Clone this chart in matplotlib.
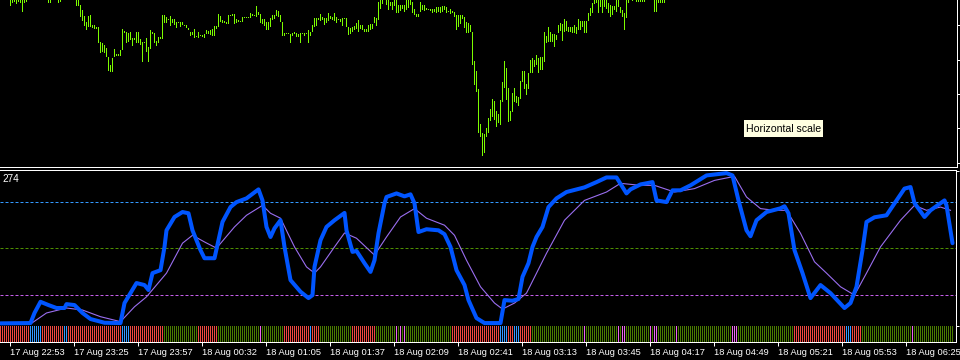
import matplotlib
matplotlib.use("Agg")
import matplotlib.pyplot as plt
from matplotlib.patches import Rectangle

# price bars (arbitrary price units), one entry per bar from bar 0
price_high = [
    180, 180, 180, 180, 180, 170, 168, 168, 168, 168, 168, 168, 168, 168, 180, 180, 180, 180, 180, 180,
    180, 180, 180, 180, 168, 168, 180, 180, 180, 168, 168, 180, 180, 180, 180, 180, 180, 180, 168, 166,
    161, 156, 150, 144, 150, 151, 141, 141, 139, 139, 124, 123, 121, 118, 109, 101, 108, 117, 112, 112,
    116, 137, 135, 134, 133, 134, 128, 128, 134, 134, 127, 124, 124, 128, 119, 136, 134, 133, 125, 129,
    129, 151, 151, 149, 147, 150, 147, 147, 144, 144, 144, 144, 141, 141, 138, 134, 134, 137, 130, 134,
    131, 131, 132, 136, 135, 136, 137, 140, 140, 152, 150, 146, 145, 144, 151, 151, 152, 152, 147, 146,
    145, 149, 149, 149, 149, 153, 152, 151, 160, 154, 152, 147, 147, 144, 144, 148, 151, 151, 156, 155,
    151, 144, 133, 133, 133, 132, 133, 134, 133, 132, 133, 133, 133, 133, 136, 134, 141, 148, 148, 148,
    152, 149, 148, 148, 153, 150, 149, 153, 149, 147, 147, 148, 148, 148, 139, 138, 139, 140, 143, 146,
    141, 141, 137, 137, 141, 142, 142, 149, 148, 164, 168, 170, 172, 169, 168, 164, 164, 168, 168, 161,
    161, 161, 161, 167, 168, 168, 164, 157, 152, 152, 164, 161, 161, 158, 157, 157, 157, 157, 159, 159,
    159, 160, 160, 159, 155, 157, 155, 154, 151, 151, 151, 151, 149, 144, 143, 141, 134, 105, 95, 77,
    42, 33, 32, 38, 48, 57, 67, 65, 55, 52, 66, 84, 105, 98, 78, 55, 73, 78, 70, 69,
    85, 95, 95, 82, 93, 106, 108, 106, 111, 108, 109, 109, 134, 130, 139, 134, 132, 132, 131, 141,
    143, 142, 147, 145, 139, 139, 139, 141, 139, 147, 145, 145, 145, 145, 153, 158, 163, 168, 168, 168,
    168, 168, 168, 168, 163, 161, 160, 160, 168, 168, 159, 156, 153, 168, 170, 172, 170, 172, 170, 170,
    170, 170, 170, 172, 172, 172, 172, 170, 170, 170, 170, 170, 170, 172, 172,
]
price_low = [
    168, 168, 168, 168, 168, 160, 163, 164, 162, 164, 163, 154, 163, 164, 168, 168, 168, 168, 168, 168,
    168, 168, 168, 168, 163, 163, 168, 168, 168, 163, 164, 168, 168, 168, 168, 168, 168, 168, 160, 160,
    149, 145, 140, 136, 139, 139, 138, 137, 137, 123, 113, 114, 113, 109, 95, 94, 94, 109, 110, 110,
    110, 116, 133, 123, 124, 126, 120, 126, 123, 123, 121, 104, 123, 114, 104, 117, 132, 123, 120, 123,
    127, 127, 143, 143, 146, 140, 143, 141, 138, 143, 139, 141, 140, 138, 136, 130, 131, 128, 129, 128,
    130, 129, 128, 132, 132, 131, 130, 130, 137, 139, 144, 143, 143, 142, 142, 150, 150, 142, 143, 144,
    144, 144, 148, 148, 148, 148, 150, 150, 149, 151, 143, 142, 140, 136, 136, 139, 146, 147, 150, 149,
    144, 130, 130, 132, 132, 123, 130, 132, 129, 129, 123, 132, 130, 132, 123, 130, 134, 139, 140, 146,
    145, 146, 141, 143, 145, 147, 146, 145, 143, 146, 144, 140, 147, 139, 131, 132, 134, 136, 137, 134,
    137, 136, 134, 134, 134, 136, 137, 143, 140, 146, 157, 162, 167, 161, 156, 160, 156, 160, 153, 153,
    155, 157, 154, 156, 158, 161, 153, 151, 149, 149, 154, 156, 155, 156, 156, 155, 153, 154, 153, 154,
    153, 154, 156, 153, 154, 152, 153, 149, 136, 139, 142, 147, 138, 133, 133, 134, 101, 81, 74, 33,
    29, 10, 13, 29, 33, 45, 49, 46, 39, 43, 41, 64, 78, 66, 44, 45, 54, 64, 63, 60,
    67, 84, 77, 71, 77, 93, 93, 99, 101, 93, 96, 96, 104, 123, 124, 124, 124, 119, 126, 133,
    135, 125, 134, 135, 134, 134, 133, 133, 132, 136, 136, 139, 133, 133, 145, 150, 153, 162, 163, 153,
    159, 153, 159, 157, 153, 149, 151, 156, 154, 159, 153, 149, 136, 148, 163, 167, 165, 167, 164, 164,
    164, 164, 164, 167, 167, 167, 167, 154, 154, 163, 163, 163, 163, 167, 167,
]
price_ticks = [3, 38, 72, 106, 141]

# oscillator main line (bar index, value)
main_bars = [0, 15, 17, 20, 24, 28, 32, 33, 37, 41, 45, 52, 60, 62, 65, 68, 72, 74, 76, 80,
             82, 83, 87, 91, 94, 96, 100, 102, 107, 109, 111, 115, 118, 123, 129, 131, 133, 135, 137, 140,
             142, 145, 150, 154, 156, 157, 160, 163, 167, 172, 173, 176, 178, 182, 185, 187, 189, 192, 193, 198,
             202, 205, 207, 209, 213, 219, 222, 225, 228, 232, 234, 238, 242, 250, 252, 256, 259, 261, 264, 266,
             268, 271, 274, 278, 283, 292, 298, 303, 308, 313, 315, 320, 326, 328, 333, 336, 340, 345, 353, 363,
             366, 369, 373, 375, 378, 383, 390, 392, 394, 397, 401, 405, 410, 415, 422, 425, 428, 431, 433, 437,
             443, 448, 452, 455, 457, 462, 465, 472, 473, 476]
main_values = [1.7, 1.9, 8.4, 15.6, 13.5, 11.6, 11.6, 14.1, 13.5, 8.4, 4.5, 2.1, 1.9, 14.8, 21.2, 27.7, 26.4, 23.2, 34.1, 36.0,
               51.0, 61.7, 70.3, 73.5, 72.7, 61.7, 48.9, 43.7, 43.7, 55.3, 67.1, 76.7, 79.9, 82.3, 88.1, 81.0, 63.9, 57.4, 63.0, 68.2,
               51.0, 29.6, 22.1, 18.0, 19.9, 38.1, 55.3, 63.9, 68.2, 72.9, 61.7, 47.8, 48.4, 40.5, 34.9, 42.4, 59.8, 79.1, 83.2, 85.5,
               83.6, 84.9, 79.1, 60.6, 62.4, 61.7, 59.2, 51.0, 36.0, 26.4, 16.7, 5.1, 1.9, 1.9, 16.7, 16.3, 17.4, 31.7, 40.5, 51.0,
               57.4, 63.9, 76.7, 82.3, 86.4, 89.4, 92.8, 95.8, 95.8, 85.5, 88.1, 91.3, 92.8, 81.0, 79.9, 87.5, 87.5, 90.7, 97.1, 98.6,
               97.1, 81.0, 61.7, 57.9, 68.2, 73.5, 75.9, 77.2, 72.7, 48.9, 34.1, 18.0, 26.4, 21.2, 11.6, 14.8, 25.3, 48.9, 67.1, 70.1,
               71.4, 81.0, 88.6, 89.6, 79.3, 70.3, 74.6, 81.0, 77.8, 53.4]

# signal line (bar index, value)
signal_bars = [0, 15, 23, 33, 41, 50, 60, 67, 73, 83, 91, 96, 102, 108, 117, 123, 131, 135, 140, 147,
               153, 157, 160, 167, 172, 178, 187, 193, 200, 207, 213, 222, 227, 233, 240, 247, 251, 257, 263, 273,
               282, 292, 303, 310, 320, 327, 337, 347, 357, 367, 373, 380, 387, 393, 400, 407, 413, 420, 427, 433,
               440, 450, 457, 463, 470, 475]
signal_values = [2.1, 1.3, 8.4, 11.6, 10.3, 6.0, 2.8, 12.4, 18.8, 34.1, 53.4, 58.5, 54.2, 50.2, 63.9, 71.4, 77.8, 72.7, 69.5, 51.0,
                 38.1, 34.1, 38.1, 51.0, 60.0, 56.6, 45.7, 57.4, 70.3, 75.7, 69.5, 65.0, 58.5, 42.4, 25.3, 14.8, 10.9, 14.8, 21.2, 46.9,
                 68.2, 81.0, 86.4, 92.0, 90.7, 90.7, 86.4, 88.6, 93.9, 96.5, 83.2, 75.7, 74.6, 74.6, 59.8, 41.4, 34.1, 25.3, 19.9, 34.1,
                 51.0, 68.2, 77.8, 74.6, 76.7, 74.6]

levels = [80, 50, 20]
level_colors = ["#3399ff", "#4f8f00", "#c55ee8"]

# histogram colour runs: first bar of each run and its colour
n_bars = 477
run_starts = [0, 15, 21, 32, 34, 61, 65, 82, 99, 109,
              130, 131, 142, 155, 156, 160, 176, 188, 198, 199,
              200, 201, 202, 203, 226, 250, 254, 257, 260, 266,
              292, 293, 309, 310, 311, 313, 325, 326, 327, 329,
              338, 339, 366, 369, 397, 423, 426, 431, 456, 457]
run_colors = ["r", "b", "r", "b", "r", "b", "r", "g", "r", "g",
              "m", "g", "r", "b", "r", "g", "r", "g", "m", "g",
              "m", "g", "m", "g", "r", "b", "r", "b", "r", "g",
              "m", "g", "m", "g", "m", "g", "m", "g", "m", "g",
              "m", "g", "m", "g", "r", "b", "r", "g", "m", "g"]
palette = {"r": "#f04840", "g": "#4a7c00", "b": "#3399ff", "m": "#ee66ee"}

tick_bars = [5 + 32 * k for k in range(15)]
time_labels = ["17 Aug 22:53", "17 Aug 23:25", "17 Aug 23:57", "18 Aug 00:32", "18 Aug 01:05",
               "18 Aug 01:37", "18 Aug 02:09", "18 Aug 02:41", "18 Aug 03:13", "18 Aug 03:45",
               "18 Aug 04:17", "18 Aug 04:49", "18 Aug 05:21", "18 Aug 05:53", "18 Aug 06:25"]

W, H = 960, 360
px = 0.72  # one pixel in points at dpi 100
font = ["Liberation Sans Narrow", "Liberation Sans", "DejaVu Sans"]

fig = plt.figure(figsize=(W / 100, H / 100), dpi=100, facecolor="black")

ax_top = fig.add_axes([0, 1 - 167 / H, 957 / W, 167 / H], facecolor="black")
ax_ind = fig.add_axes([0, 1 - 341.5 / H, 956 / W, 171.5 / H], facecolor="black")

# price bars drawn as 1px wide bars
bar_x = list(range(len(price_high)))
bar_h = [hi - lo for hi, lo in zip(price_high, price_low)]
ax_top.bar(bar_x, bar_h, bottom=price_low, width=0.5, color="#7cfc00",
           linewidth=0, antialiased=False)
ax_top.set_xlim(-0.25, 957 / 2 - 0.25)
ax_top.set_ylim(-1, 166)

# histogram strip
hist_bars, hist_cols = [], []
bounds = run_starts + [n_bars]
for i, code in enumerate(run_colors):
    for b in range(bounds[i], bounds[i + 1]):
        hist_bars.append(b)
        hist_cols.append(palette[code])
ax_ind.bar(hist_bars, 10.2, bottom=-10, width=0.5, color=hist_cols, linewidth=0, antialiased=False)

for lv, col in zip(levels, level_colors):
    ax_ind.axhline(lv, color=col, linewidth=px, dashes=(3, 2))

ax_ind.plot(signal_bars, signal_values, color="#9a6ef0", linewidth=0.8)
ax_ind.plot(main_bars, main_values, color="#0055ff", linewidth=2.9,
            solid_joinstyle="round", solid_capstyle="round")
ax_ind.set_xlim(-0.25, 956 / 2 - 0.25)
ax_ind.set_ylim(-10, 100.6)

for ax in (ax_top, ax_ind):
    for side in ("left", "top"):
        ax.spines[side].set_visible(False)
    for side in ("bottom", "right"):
        ax.spines[side].set_color("white")
        ax.spines[side].set_linewidth(px)
ax_ind.spines["top"].set_visible(True)
ax_ind.spines["top"].set_color("white")
ax_ind.spines["top"].set_linewidth(px)

ax_top.set_xticks([])
ax_top.yaxis.tick_right()
ax_top.set_yticks(price_ticks)
ax_top.set_yticklabels([])
ax_top.tick_params(axis="y", colors="white", length=3 * px, width=px, direction="out")

ax_ind.yaxis.tick_right()
ax_ind.set_yticks([0, 100])
ax_ind.set_yticklabels([])
ax_ind.tick_params(axis="y", colors="white", length=3 * px, width=px, direction="out")

ax_ind.set_xticks(tick_bars)
ax_ind.set_xticklabels(time_labels, fontsize=6.7, family=font, color="white", ha="left")
ax_ind.tick_params(axis="x", colors="white", length=4 * px, width=px, pad=1.5)

fig.text(2 / W, 1 - 174 / H, "274", color="white", fontsize=7.2, family=font, va="top", ha="left")

fig.patches.append(Rectangle((744 / W, 1 - 137 / H), 79 / W, 17 / H, transform=fig.transFigure,
                             facecolor="#ffffe1", edgecolor="none"))
fig.text(746 / W, 1 - 128.5 / H, "Horizontal scale", color="black", fontsize=7.6,
         family=["Liberation Sans", "DejaVu Sans"], va="center", ha="left")

fig.savefig("out.png", dpi=100, facecolor="black")
